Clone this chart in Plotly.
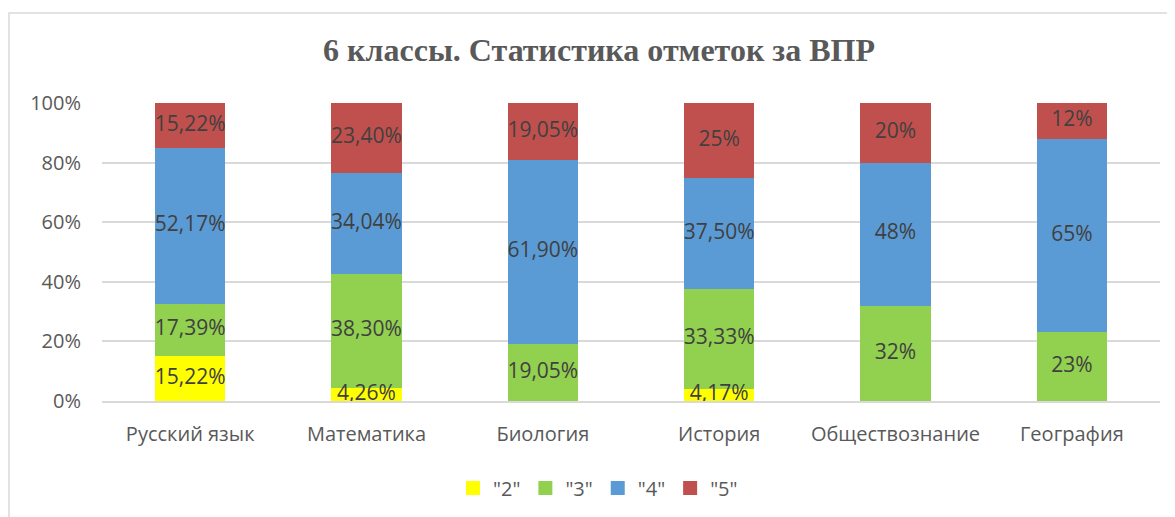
import plotly.graph_objects as go

categories = ["Русский язык", "Математика", "Биология", "История", "Обществознание", "География"]
series_names = ['"2"', '"3"', '"4"', '"5"']
vals_2 = [15.22, 4.26, 0, 4.17, 0, 0]
vals_3 = [17.39, 38.30, 19.05, 33.33, 32, 23]
vals_4 = [52.17, 34.04, 61.90, 37.50, 48, 65]
vals_5 = [15.22, 23.40, 19.05, 25, 20, 12]
labels_2 = ["15,22%", "4,26%", "", "4,17%", "", ""]
labels_3 = ["17,39%", "38,30%", "19,05%", "33,33%", "32%", "23%"]
labels_4 = ["52,17%", "34,04%", "61,90%", "37,50%", "48%", "65%"]
labels_5 = ["15,22%", "23,40%", "19,05%", "25%", "20%", "12%"]
colors = ["#FFFF00", "#92D050", "#5B9BD5", "#C0504D"]
y_ticks = [0, 20, 40, 60, 80, 100]

FONT = "Open Sans"
L, R, T, B = 94, 23, 95, 124
PW, PH = 1175 - L - R, 517 - T - B

fig = go.Figure()
all_vals = [vals_2, vals_3, vals_4, vals_5]
all_labels = [labels_2, labels_3, labels_4, labels_5]
for name, vals, col in zip(series_names, all_vals, colors):
    fig.add_trace(go.Bar(
        x=categories, y=vals, name=name, marker=dict(color=col, line=dict(width=0)),
        showlegend=False, hoverinfo="skip",
    ))

# data labels at segment midpoints (from the data via cumulative sums)
base = [0.0] * len(categories)
for vals, labs in zip(all_vals, all_labels):
    mids = [b + v / 2 for b, v in zip(base, vals)]
    fig.add_trace(go.Scatter(
        x=categories, y=mids, text=labs, mode="text", showlegend=False,
        textposition="middle center", cliponaxis=False, hoverinfo="skip",
        textfont=dict(family=FONT, size=21, color="#404040"),
    ))
    base = [b + v for b, v in zip(base, vals)]

# legend entries
for name, col in zip(series_names, colors):
    fig.add_trace(go.Scatter(
        x=[None], y=[None], mode="markers", name=name,
        marker=dict(symbol="square", size=14, color=col),
    ))

fig.update_layout(
    barmode="stack", bargap=0.6,
    width=1175, height=517,
    margin=dict(l=L, r=R, t=T, b=B),
    paper_bgcolor="white", plot_bgcolor="white",
    title=dict(text="<b>6 классы. Статистика отметок за ВПР</b>", x=0.503, xanchor="center",
               y=0.919, yanchor="middle",
               font=dict(family="Liberation Serif", size=32, color="#595959")),
    font=dict(family=FONT, color="#595959", size=20),
    legend=dict(orientation="h", x=(590 - L) / PW, xanchor="center",
                y=(393 - 480) / PH, yanchor="middle",
                font=dict(family=FONT, size=20, color="#595959"), itemwidth=30,
                traceorder="normal"),
    yaxis=dict(range=[0, 100], tickvals=y_ticks, ticktext=[f"{v}%" for v in y_ticks],
               showgrid=True, gridcolor="#d9d9d9", gridwidth=1.5, zeroline=False,
               showline=False, ticks="", ticklabelstandoff=20,
               tickfont=dict(family=FONT, size=20, color="#595959")),
    xaxis=dict(showline=True, linecolor="#d9d9d9", linewidth=1.5, ticks="",
               tickfont=dict(family=FONT, size=20, color="#595959"), ticklabelstandoff=14),
    shapes=[dict(type="rect", xref="paper", yref="paper",
                 x0=(1 - L) / PW, x1=(1200 - L) / PW,
                 y0=(393 - 540) / PH, y1=(393 - 5) / PH,
                 line=dict(color="#d9d9d9", width=1.5), fillcolor="rgba(0,0,0,0)", layer="below")],
)

fig.write_html("out.html")
